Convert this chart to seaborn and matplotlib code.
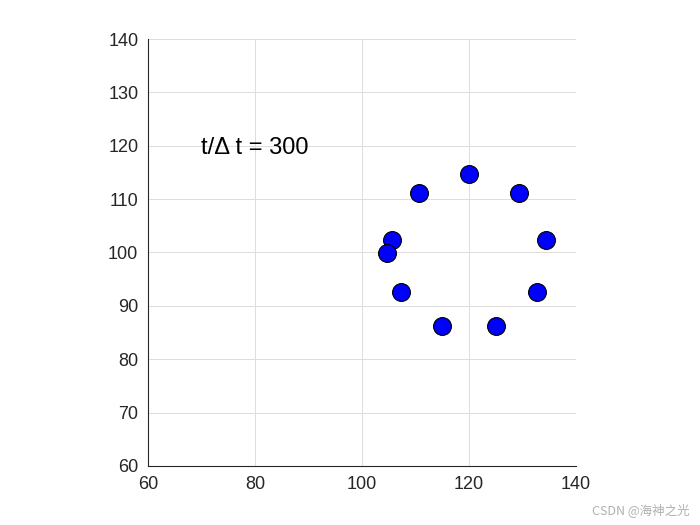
import numpy as np
import pandas as pd
import matplotlib.pyplot as plt
import seaborn as sns

# particle positions at t/dt = 300
x_pos = [120.0, 110.6, 129.3, 105.6, 134.4, 104.7, 107.3, 132.7, 115.0, 125.0]
y_pos = [114.7, 111.2, 111.2, 102.4, 102.4, 99.9, 92.6, 92.6, 86.3, 86.3]
ticks = [60, 80, 100, 120, 140]
yticks = [60, 70, 80, 90, 100, 110, 120, 130, 140]
label = "t/\u0394 t = 300"

df = pd.DataFrame({"x": x_pos, "y": y_pos})

sns.set_theme(style="white")
plt.rcParams["font.family"] = ["Liberation Sans", "DejaVu Sans"]

fig = plt.figure(figsize=(7, 5.25), dpi=100)
ax = fig.add_axes([0.2114, 0.1124, 0.6115, 0.8133])

sns.scatterplot(data=df, x="x", y="y", ax=ax, s=165, color="#0000ff",
                edgecolor="black", linewidth=0.8, zorder=3)

ax.set_xlim(60, 140)
ax.set_ylim(60, 140)
ax.set_xticks(ticks)
ax.set_yticks(yticks)
ax.grid(True, color="#dcdcdc", linewidth=0.7)
ax.set_axisbelow(True)
ax.set_xlabel("")
ax.set_ylabel("")
for side in ["top", "right"]:
    ax.spines[side].set_visible(False)
for side in ["left", "bottom"]:
    ax.spines[side].set_color("#262626")
    ax.spines[side].set_linewidth(0.8)
ax.tick_params(axis="both", labelsize=13, colors="#262626", direction="in",
               length=3, pad=7)

ax.text(70, 119.6, label, fontsize=17, color="black", va="center")

fig.text(0.985, 0.015, "CSDN @海神之光", ha="right", va="bottom", fontsize=9,
         color="#b0b0b0", family=["Noto Sans CJK SC", "DejaVu Sans"])

fig.savefig("out.png", dpi=100)
